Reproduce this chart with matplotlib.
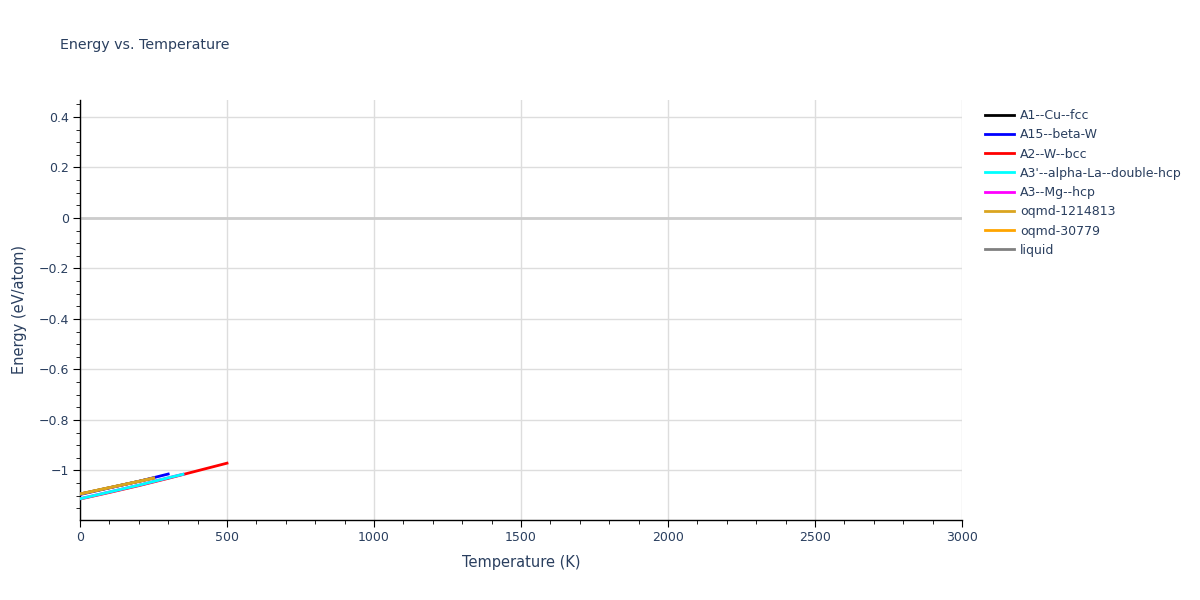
import matplotlib
matplotlib.use("Agg")
import matplotlib.pyplot as plt
from matplotlib.ticker import MultipleLocator, FuncFormatter

# data (T in K, E in eV/atom)
names = ["A1--Cu--fcc", "A15--beta-W", "A2--W--bcc", "A3'--alpha-La--double-hcp",
         "A3--Mg--hcp", "oqmd-1214813", "oqmd-30779", "liquid"]
colors = ["black", "blue", "red", "cyan", "magenta", "goldenrod", "orange", "gray"]

t_a1 = [0, 100, 200, 250]
e_a1 = [-1.093, -1.068, -1.043, -1.030]
t_a15 = [0, 100, 200, 300]
e_a15 = [-1.095, -1.069, -1.043, -1.014]
t_a2 = [0, 100, 200, 300, 400, 500]
e_a2 = [-1.113, -1.087, -1.060, -1.031, -1.001, -0.971]
t_a3p = [0, 100, 200, 300, 350]
e_a3p = [-1.112, -1.085, -1.058, -1.029, -1.015]
t_a3 = [0, 100, 200, 300, 350]
e_a3 = [-1.112, -1.085, -1.058, -1.029, -1.015]
t_oq1 = [0, 100, 200, 250]
e_oq1 = [-1.093, -1.068, -1.043, -1.030]
t_oq2 = [0, 100, 200, 250]
e_oq2 = [-1.093, -1.068, -1.043, -1.030]
t_liq = []
e_liq = []

series = [(t_a1, e_a1), (t_a15, e_a15), (t_a2, e_a2), (t_a3p, e_a3p),
          (t_a3, e_a3), (t_oq1, e_oq1), (t_oq2, e_oq2), (t_liq, e_liq)]
# stacking as it looks in the reference
zorders = [2, 3, 2, 6, 5, 8, 7, 2]

txt = "#2a3f5f"
fig = plt.figure(figsize=(12, 6), dpi=100)
ax = fig.add_axes([80 / 1200, 80 / 600, 882 / 1200, 420 / 600])

for (t, e), name, c, z in zip(series, names, colors, zorders):
    ax.plot(t, e, color=c, lw=2, label=name, zorder=z)

ax.set_xlim(0, 3000)
ax.set_ylim(-1.196, 0.467)
ax.axhline(0, color="#cccccc", lw=2, zorder=1)

ax.xaxis.set_major_locator(MultipleLocator(500))
ax.xaxis.set_minor_locator(MultipleLocator(100))
ax.yaxis.set_major_locator(MultipleLocator(0.2))
ax.yaxis.set_minor_locator(MultipleLocator(0.05))
ax.yaxis.set_major_formatter(FuncFormatter(lambda v, p: ("%g" % round(v, 2)).replace("-", "\u2212")))

ax.grid(True, which="major", color="#dddddd", lw=1, zorder=0)
ax.set_axisbelow(True)
for s in ["top", "right"]:
    ax.spines[s].set_visible(False)
for s in ["left", "bottom"]:
    ax.spines[s].set_color("black")
    ax.spines[s].set_linewidth(1)

ax.tick_params(which="major", direction="out", length=5, color="black", labelsize=9, labelcolor=txt, pad=3)
ax.tick_params(which="minor", direction="out", length=3, color="black")

ax.set_xlabel("Temperature (K)", fontsize=10.5, color=txt, labelpad=8)
ax.set_ylabel("Energy (eV/atom)", fontsize=10.5, color=txt, labelpad=8)
fig.text(60 / 1200, 1 - 45 / 600, "Energy vs. Temperature", fontsize=10.3, color=txt, va="center")

leg = fig.legend(loc="upper left", bbox_to_anchor=(980 / 1200, 1 - 104 / 600), frameon=False,
                 fontsize=9, labelcolor=txt, handlelength=2.3, handletextpad=0.5,
                 labelspacing=0.5, borderaxespad=0)

fig.savefig("out.png", dpi=100)
